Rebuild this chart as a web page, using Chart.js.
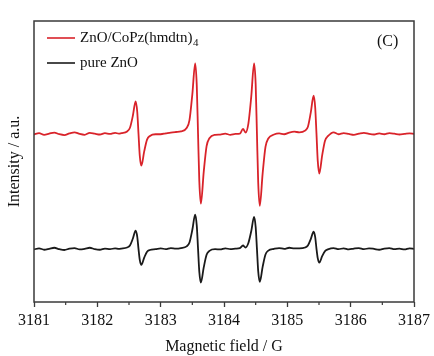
<!DOCTYPE html>
<html>
<head>
<meta charset="utf-8">
<script src="https://cdn.jsdelivr.net/npm/chart.js@4"></script>
<style>
html,body{margin:0;padding:0;background:#fff;}
canvas{display:block;}
</style>
</head>
<body>
<canvas id="c" width="434" height="356"></canvas>
<script>
// Magnetic field (G) sample positions
const field = [
  3181.00,3181.08,3181.16,3181.24,3181.32,3181.40,3181.48,3181.56,3181.64,3181.72,3181.80,3181.88,3181.96,3182.04,3182.12,3182.20,3182.28,3182.34,
  3182.38,3182.47,3182.515,3182.56,3182.605,3182.63,3182.65,3182.67,3182.695,3182.74,3182.785,3182.83,3182.92,
  3183.00,3183.08,3183.16,3183.24,
  3183.32,3183.41,3183.455,3183.50,3183.545,3183.57,3183.59,3183.61,3183.635,3183.68,3183.725,3183.77,3183.86,
  3183.94,3184.02,3184.10,3184.18,
  3184.25,3184.30,3184.34,3184.385,3184.43,3184.475,3184.50,3184.52,3184.54,3184.565,3184.61,3184.655,3184.70,3184.79,
  3184.87,3184.95,3185.03,3185.11,
  3185.19,3185.28,3185.325,3185.37,3185.415,3185.44,3185.46,3185.48,3185.505,3185.55,3185.595,3185.64,3185.73,
  3185.81,3185.89,3185.97,3186.05,3186.13,3186.21,3186.29,3186.37,3186.45,3186.53,3186.61,3186.69,3186.77,3186.85,3186.93,3187.00
];
// ZnO/CoPz(hmdtn)4 (red), arbitrary intensity units
const znoCoPz = [
  59.6,60.1,59.5,59.9,60.3,59.7,59.4,60.0,60.4,59.8,59.5,60.2,59.9,59.6,60.1,59.8,60.2,59.9,
  60.1,60.7,62.0,66.2,71.4,67.7,59.9,52.1,48.5,53.6,57.8,59.1,59.7,
  59.7,60.0,60.3,60.5,
  60.7,61.9,64.7,73.9,84.9,77.1,60.0,43.1,35.0,46.3,55.5,58.3,59.5,
  59.6,59.9,59.5,59.8,
  59.9,61.6,60.3,63.5,73.0,84.9,77.5,60.0,42.6,34.2,45.7,55.2,58.2,59.6,
  60.0,59.7,60.3,60.6,
  60.4,61.0,62.4,67.4,73.4,69.2,60.0,50.3,45.7,52.2,57.4,59.0,60.4,
  59.7,60.1,59.8,59.5,59.9,60.2,59.8,59.6,60.0,59.7,60.1,59.9,59.6,59.8,60.0,59.8
];
// pure ZnO (black)
const pureZnO = [
  18.7,19.1,18.6,18.9,19.3,18.8,18.5,19.0,19.2,18.7,18.9,19.3,18.8,18.6,19.0,18.8,19.1,18.9,
  19.0,19.4,20.1,22.5,25.4,23.3,18.9,15.0,13.2,15.8,17.9,18.5,18.8,
  19.1,18.8,19.2,19.0,
  19.2,19.8,21.2,25.7,31.1,27.2,19.0,10.8,6.9,12.3,16.8,18.2,18.8,
  18.7,19.1,18.8,19.0,
  19.2,20.1,19.4,21.0,25.2,30.3,26.7,19.0,11.0,7.2,12.5,16.9,18.3,18.9,
  19.2,18.9,19.3,19.1,
  19.1,19.4,20.1,22.4,25.0,23.1,19.0,15.6,14.0,16.3,18.1,18.7,19.2,
  18.8,19.1,18.7,19.0,19.2,18.8,19.1,18.9,18.6,19.0,19.2,18.8,19.0,18.7,19.1,18.9
];
const xMin = 3181, xMax = 3187, xStep = 0.5;
const seriesLabels = ['ZnO/CoPz(hmdtn)4', 'pure ZnO'];
const xTitle = 'Magnetic field / G';
const yTitle = 'Intensity / a.u.';
const panelTag = '(C)';

const RED = '#d9232a', BLACK = '#1a1a1a', FRAME = '#3a3a3a';
const SERIF = "'Liberation Serif', 'Times New Roman', serif";

const decor = {
  id: 'decor',
  afterDraw(chart) {
    const {ctx, chartArea: a, scales} = chart;
    ctx.save();
    // frame
    ctx.strokeStyle = FRAME; ctx.lineWidth = 1.5;
    ctx.strokeRect(a.left, a.top, a.right - a.left, a.bottom - a.top);
    // minor ticks
    const xs = scales.x;
    ctx.lineWidth = 1.2;
    for (let v = xMin + 0.5; v < xMax; v += 1) {
      const px = xs.getPixelForValue(v);
      ctx.beginPath(); ctx.moveTo(px, a.bottom); ctx.lineTo(px, a.bottom + 3); ctx.stroke();
    }
    // legend
    const lx0 = a.left + 13, lx1 = a.left + 41, tx = a.left + 46;
    const rows = [{c: RED, y: a.top + 17, t: 'ZnO/CoPz(hmdtn)', sub: '4'}, {c: BLACK, y: a.top + 42, t: 'pure ZnO'}];
    ctx.textBaseline = 'middle'; ctx.textAlign = 'left';
    rows.forEach(r => {
      ctx.strokeStyle = r.c; ctx.lineWidth = 1.6;
      ctx.beginPath(); ctx.moveTo(lx0, r.y); ctx.lineTo(lx1, r.y); ctx.stroke();
      ctx.fillStyle = '#111';
      ctx.font = '15px ' + SERIF;
      ctx.fillText(r.t, tx, r.y);
      if (r.sub) {
        const w = ctx.measureText(r.t).width;
        ctx.font = '11px ' + SERIF;
        ctx.fillText(r.sub, tx + w + 0.5, r.y + 5);
      }
    });
    ctx.font = '16px ' + SERIF;
    ctx.fillText(panelTag, a.right - 37, a.top + 21);
    ctx.restore();
  }
};

new Chart(document.getElementById('c'), {
  type: 'line',
  data: {
    datasets: [
      {label: seriesLabels[0], data: field.map((f, i) => ({x: f, y: znoCoPz[i]})), borderColor: RED, borderWidth: 1.8, pointRadius: 0, cubicInterpolationMode: 'monotone', fill: false},
      {label: seriesLabels[1], data: field.map((f, i) => ({x: f, y: pureZnO[i]})), borderColor: BLACK, borderWidth: 1.8, pointRadius: 0, cubicInterpolationMode: 'monotone', fill: false}
    ]
  },
  options: {
    responsive: false,
    animation: false,
    devicePixelRatio: 1,
    layout: {padding: {top: 21, right: 20, left: 0, bottom: 0}},
    plugins: {legend: {display: false}, tooltip: {enabled: false}},
    scales: {
      x: {
        type: 'linear', min: xMin, max: xMax,
        afterFit(s) { s.height = 54; },
        ticks: {
          stepSize: xStep, autoSkip: false, maxRotation: 0, padding: 4,
          color: '#111', font: {family: SERIF, size: 16},
          callback: v => Number.isInteger(v) ? String(v) : ''
        },
        grid: {drawOnChartArea: false, drawTicks: true, tickLength: 5, tickWidth: 1.3,
               tickColor: c => (c.tick && Number.isInteger(c.tick.value)) ? FRAME : 'rgba(0,0,0,0)'},
        border: {display: false},
        title: {display: true, text: xTitle, color: '#111', font: {family: SERIF, size: 16}, padding: {top: 4, bottom: 0}}
      },
      y: {
        min: 0, max: 100,
        afterFit(s) { s.width = 34; },
        ticks: {display: false},
        grid: {display: false},
        border: {display: false},
        title: {display: true, text: yTitle, color: '#111', font: {family: SERIF, size: 16}, padding: {top: 5, bottom: 0}}
      }
    }
  },
  plugins: [decor]
});
</script>
</body>
</html>
